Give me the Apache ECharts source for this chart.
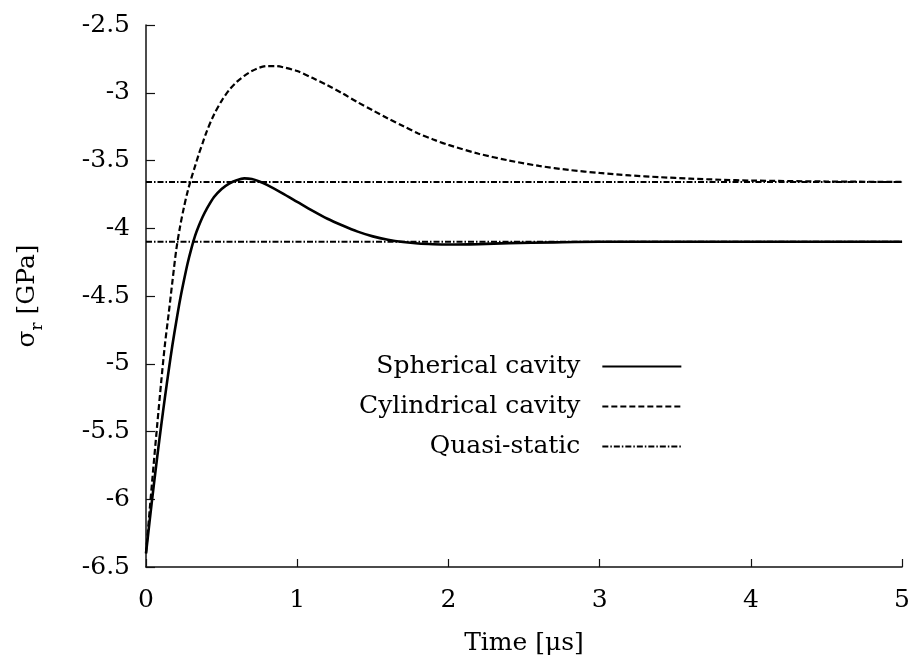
<!DOCTYPE html>
<html>
<head>
<meta charset="utf-8">
<script src="https://cdn.jsdelivr.net/npm/echarts@6/dist/echarts.min.js"></script>
<style>
html,body{margin:0;padding:0;background:#fff;}
#chart{width:913px;height:661px;}
</style>
</head>
<body>
<div id="chart"></div>
<script>
// Time [μs]
const sphericalT = [0, 0.025, 0.05, 0.075, 0.1, 0.125, 0.15, 0.175, 0.2, 0.225, 0.25, 0.275, 0.3, 0.325, 0.35, 0.375, 0.4, 0.45, 0.5, 0.55, 0.6, 0.65, 0.7, 0.75, 0.8, 0.9, 1.0, 1.1, 1.2, 1.3, 1.4, 1.5, 1.6, 1.7, 1.8, 1.9, 2.0, 2.2, 2.4, 2.7, 3.0, 3.5, 4.0, 5.0];
const sphericalV = [-6.4, -6.15, -5.91, -5.68, -5.46, -5.25, -5.05, -4.86, -4.69, -4.53, -4.39, -4.26, -4.15, -4.055, -3.98, -3.915, -3.86, -3.77, -3.71, -3.67, -3.645, -3.632, -3.637, -3.655, -3.68, -3.74, -3.805, -3.87, -3.93, -3.98, -4.025, -4.06, -4.085, -4.102, -4.113, -4.118, -4.12, -4.117, -4.11, -4.104, -4.1, -4.1, -4.1, -4.1];
const cylindricalT = [0, 0.025, 0.05, 0.075, 0.1, 0.125, 0.15, 0.175, 0.2, 0.225, 0.25, 0.275, 0.3, 0.325, 0.35, 0.375, 0.4, 0.45, 0.5, 0.55, 0.6, 0.65, 0.7, 0.75, 0.8, 0.85, 0.9, 1.0, 1.1, 1.2, 1.3, 1.4, 1.5, 1.6, 1.7, 1.8, 1.9, 2.0, 2.2, 2.4, 2.6, 2.8, 3.0, 3.2, 3.4, 3.6, 3.8, 4.0, 4.5, 5.0];
const cylindricalV = [-6.4, -6.07, -5.75, -5.44, -5.14, -4.86, -4.63, -4.39, -4.16, -3.99, -3.85, -3.73, -3.63, -3.54, -3.45, -3.37, -3.29, -3.16, -3.06, -2.98, -2.92, -2.875, -2.84, -2.815, -2.803, -2.803, -2.81, -2.84, -2.89, -2.945, -3.005, -3.07, -3.13, -3.19, -3.245, -3.3, -3.345, -3.385, -3.45, -3.5, -3.54, -3.57, -3.592, -3.61, -3.623, -3.634, -3.642, -3.648, -3.655, -3.658];
const quasiStaticLevels = [-3.658, -4.1];
const timeRange = [0, 5];
const seriesNames = ['Spherical cavity', 'Cylindrical cavity', 'Quasi-static'];

const pairs = (xs, ys) => xs.map((x, i) => [x, ys[i]]);
const FONT = 'DejaVu Serif';

const chart = echarts.init(document.getElementById('chart'), null, {renderer: 'canvas'});

const series = [
  {
    name: seriesNames[0], type: 'line', data: pairs(sphericalT, sphericalV),
    symbol: 'none', smooth: 0.3,
    lineStyle: {color: '#000', width: 2.6, type: 'solid'}, z: 4
  },
  {
    name: seriesNames[1], type: 'line', data: pairs(cylindricalT, cylindricalV),
    symbol: 'none', smooth: 0.3,
    lineStyle: {color: '#000', width: 2.2, type: [6, 3]}, z: 3
  }
];
quasiStaticLevels.forEach(v => {
  series.push({
    name: seriesNames[2], type: 'line', data: timeRange.map(t => [t, v]),
    symbol: 'none', lineStyle: {color: '#000', width: 2, type: [6, 2, 1.5, 2]}, z: 2
  });
});

chart.setOption({
  animation: false,
  backgroundColor: '#fff',
  grid: {left: 146, right: 7, top: 25, bottom: 87, containLabel: false},
  legend: {
    data: seriesNames,
    orient: 'vertical',
    align: 'right',
    left: 359,
    top: 354,
    padding: 0,
    itemGap: 15,
    itemWidth: 79,
    itemHeight: 14,
    itemStyle: {opacity: 0},
    formatter: n => '{t|' + n + '}',
    textStyle: {
      fontFamily: FONT, fontSize: 25, color: '#000',
      rich: {t: {fontFamily: FONT, fontSize: 25, color: '#000', padding: [0, 17, 0, 0], lineHeight: 30}}
    }
  },
  xAxis: {
    type: 'value', min: 0, max: 5, interval: 1,
    name: 'Time [μs]', nameLocation: 'middle', nameGap: 64,
    nameTextStyle: {fontFamily: FONT, fontSize: 25, color: '#000'},
    axisLine: {show: true, onZero: false, lineStyle: {color: '#111', width: 1.5}},
    axisTick: {show: true, inside: true, length: 8, lineStyle: {color: '#111', width: 1.2}},
    axisLabel: {fontFamily: FONT, fontSize: 25, color: '#000', margin: 21},
    splitLine: {show: false}
  },
  yAxis: {
    type: 'value', min: -6.5, max: -2.5, interval: 0.5,
    name: '{a|σ}{s|r}{a| [GPa]}', nameLocation: 'middle', nameGap: 106, nameRotate: 90,
    nameTextStyle: {
      fontFamily: FONT, fontSize: 25, color: '#000',
      rich: {
        a: {fontFamily: FONT, fontSize: 25, color: '#000', verticalAlign: 'bottom', lineHeight: 30},
        s: {fontFamily: FONT, fontSize: 17, color: '#000', verticalAlign: 'bottom', lineHeight: 22, padding: [0, 0, -6, 0]}
      }
    },
    axisLine: {show: true, onZero: false, lineStyle: {color: '#111', width: 1.5}},
    axisTick: {show: true, inside: true, length: 9, lineStyle: {color: '#111', width: 1.2}},
    axisLabel: {fontFamily: FONT, fontSize: 25, color: '#000', margin: 16},
    splitLine: {show: false}
  },
  series: series
});
</script>
</body>
</html>
